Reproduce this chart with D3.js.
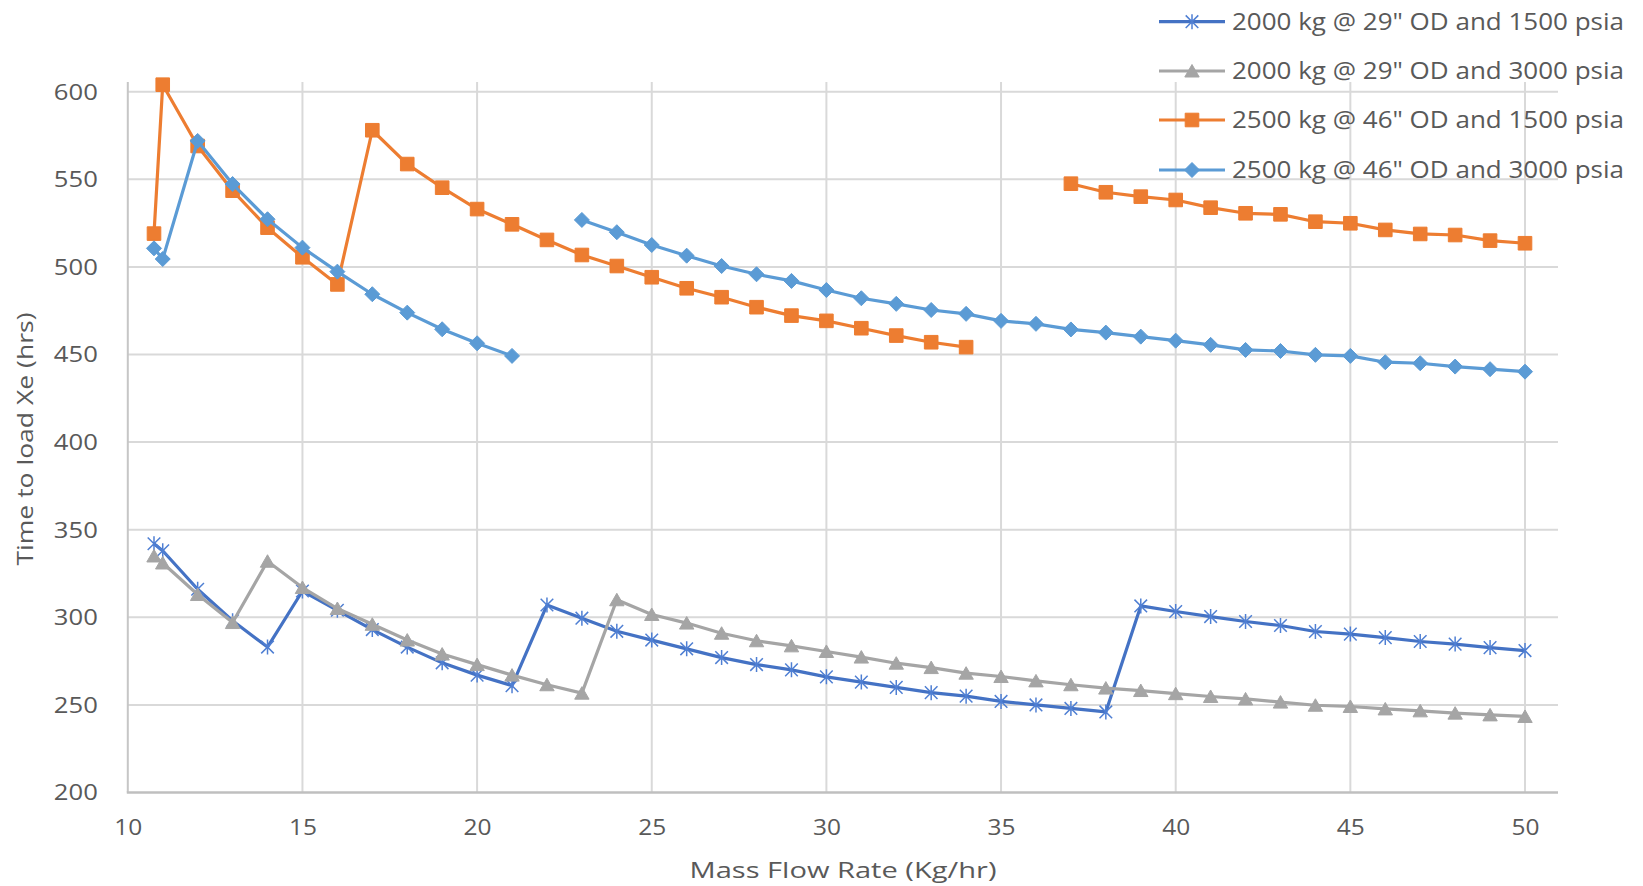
<!DOCTYPE html>
<html>
<head>
<meta charset="utf-8">
<script src="https://cdn.jsdelivr.net/npm/d3@7/dist/d3.min.js"></script>
<style>
  html, body { margin: 0; padding: 0; background: #fff; }
  svg { display: block; }
  text { font-family: "Open Sans", "Noto Sans", sans-serif; fill: #595959; }
</style>
</head>
<body>
<svg id="chart" width="1643" height="886"></svg>
<script>
// ---------------- DATA ----------------
const flowRates = [10.75, 11, 12, 13, 14, 15, 16, 17, 18, 19, 20, 21, 22, 23, 24, 25, 26, 27, 28, 29, 30,
  31, 32, 33, 34, 35, 36, 37, 38, 39, 40, 41, 42, 43, 44, 45, 46, 47, 48, 49, 50];

const seriesNames = [
  '2000 kg @ 29" OD and 1500 psia',
  '2000 kg @ 29" OD and 3000 psia',
  '2500 kg @ 46" OD and 1500 psia',
  '2500 kg @ 46" OD and 3000 psia'
];

const s2000at1500 = [342, 338, 316, 298, 283, 315, 304, 293, 283, 274, 267, 261, 307, 299.5, 292, 287, 282, 277, 273, 270, 266,
  263, 260, 257, 255, 252, 250, 248, 246, 306.5, 303.3, 300.4, 297.6, 295.3, 291.9, 290.4, 288.4, 286.2, 284.7, 282.7, 281];

const s2000at3000 = [335, 331, 313, 297, 332, 317, 305, 296, 287, 279, 273, 267, 261.5, 256.7, 310, 301.6, 296.7, 290.9, 286.6, 283.7, 280.5,
  277.3, 273.8, 271.3, 268.1, 266.2, 263.7, 261.5, 259.6, 258.2, 256.4, 254.8, 253.4, 251.6, 249.8, 249.1, 247.7, 246.6, 245.3, 244.3, 243.4];

const s2500at1500 = [519, 604, 569, 543.5, 522.4, 505.5, 490, 578, 558.7, 545.2, 533, 524.3, 515.4, 506.8, 500.5, 494.1, 487.8, 482.7, 477, 472.2, 469.2,
  465, 460.8, 457, 454.2, null, null, 547.5, 542.6, 540.1, 538.2, 533.8, 530.6, 530, 525.8, 524.9, 521.1, 518.8, 518.2, 515, 513.5];

const s2500at3000 = [510.6, 504.5, 571.9, 547.3, 527.2, 511, 497.3, 484.4, 473.9, 464.4, 456.4, 449.2, null, 526.8, 519.8, 512.5, 506.4, 500.5, 495.8, 492, 486.8,
  482.1, 478.9, 475.4, 473.2, 469.2, 467.5, 464.3, 462.5, 460.2, 457.9, 455.5, 452.6, 452, 449.8, 449.2, 445.6, 445, 443.1, 441.6, 440.2];

const xTicks = [10, 15, 20, 25, 30, 35, 40, 45, 50];
const yTicks = [200, 250, 300, 350, 400, 450, 500, 550, 600];
const xTitle = "Mass Flow Rate (Kg/hr)";
const yTitle = "Time to load  Xe (hrs)";

// ---------------- LAYOUT ----------------
const svg = d3.select("#chart");
const plotLeft = 127.8, plotRight = 1558, plotTop = 82, plotBottom = 792.5;
const x = d3.scaleLinear().domain([10, 50]).range([plotLeft, 1525]);
const y = d3.scaleLinear().domain([200, 600]).range([plotBottom, 91.7]);

const colors = ["#4472C4", "#A5A5A5", "#ED7D31", "#5B9BD5"];
const markers = ["star", "triangle", "square", "diamond"];

function markerPath(type) {
  switch (type) {
    case "star": return "M0,-7.5V7.5M-6.3,-6.3L6.3,6.3M-6.3,6.3L6.3,-6.3";
    case "triangle": return "M0,-6.5L7.2,6L-7.2,6Z";
    case "square": return "M-6.8,-6.8H6.8V6.8H-6.8Z";
    case "diamond": return "M0,-7.5L7.5,0L0,7.5L-7.5,0Z";
  }
}
function drawMarker(g, type, color) {
  const p = g.append("path").attr("d", markerPath(type));
  if (type === "star") p.attr("fill", "none").attr("stroke", "#4f7fd3").attr("stroke-width", 1.5);
  else p.attr("fill", color).attr("stroke", color).attr("stroke-width", 1);
  return p;
}

// ---------------- GRID ----------------
const grid = svg.append("g");
grid.selectAll(".hg").data(yTicks.filter(v => v !== 200)).enter().append("line")
  .attr("x1", plotLeft).attr("x2", plotRight)
  .attr("y1", d => y(d)).attr("y2", d => y(d))
  .attr("stroke", "#d9d9d9").attr("stroke-width", 2);
grid.selectAll(".vg").data(xTicks.filter(v => v !== 10)).enter().append("line")
  .attr("x1", d => x(d)).attr("x2", d => x(d))
  .attr("y1", plotTop).attr("y2", plotBottom)
  .attr("stroke", "#d9d9d9").attr("stroke-width", 2);
// axis lines
grid.append("line").attr("x1", plotLeft).attr("x2", plotLeft).attr("y1", plotTop).attr("y2", plotBottom)
  .attr("stroke", "#c6c6c6").attr("stroke-width", 2);
grid.append("line").attr("x1", plotLeft - 1).attr("x2", plotRight).attr("y1", plotBottom).attr("y2", plotBottom)
  .attr("stroke", "#bfbfbf").attr("stroke-width", 2.5);

// ---------------- AXES ----------------
const yAxis = svg.append("g").attr("transform", `translate(${plotLeft},0)`)
  .call(d3.axisLeft(y).tickValues(yTicks).tickSize(0).tickPadding(30));
yAxis.select(".domain").remove();
yAxis.selectAll("text").style("font-family", '"Open Sans", sans-serif').style("font-size", "21px")
  .attr("fill", "#595959").attr("dy", "0.35em")
  .attr("textLength", 44).attr("lengthAdjust", "spacingAndGlyphs");

const xAxis = svg.append("g").attr("transform", `translate(0,${plotBottom})`)
  .call(d3.axisBottom(x).tickValues(xTicks).tickSize(0).tickPadding(28));
xAxis.select(".domain").remove();
xAxis.selectAll("text").style("font-family", '"Open Sans", sans-serif').style("font-size", "21px")
  .attr("fill", "#595959")
  .attr("textLength", 28).attr("lengthAdjust", "spacingAndGlyphs");

svg.append("text").attr("x", 843).attr("y", 878).attr("text-anchor", "middle")
  .style("font-size", "21px").attr("textLength", 307).attr("lengthAdjust", "spacingAndGlyphs")
  .text(xTitle);
svg.append("text").attr("transform", "translate(33,439) rotate(-90)").attr("text-anchor", "middle")
  .style("font-size", "21px").attr("textLength", 253).attr("lengthAdjust", "spacingAndGlyphs")
  .text(yTitle);

// ---------------- SERIES ----------------
const allSeries = [s2000at1500, s2000at3000, s2500at1500, s2500at3000];
const line = d3.line().defined(d => d.v !== null).x(d => x(d.x)).y(d => y(d.v));

allSeries.forEach((vals, i) => {
  const pts = flowRates.map((fx, j) => ({ x: fx, v: vals[j] }));
  const g = svg.append("g");
  g.append("path").datum(pts).attr("d", line)
    .attr("fill", "none").attr("stroke", colors[i]).attr("stroke-width", 3.2)
    .attr("stroke-linejoin", "round");
  pts.filter(d => d.v !== null).forEach(d => {
    const mg = g.append("g").attr("transform", `translate(${x(d.x)},${y(d.v)})`);
    drawMarker(mg, markers[i], colors[i]);
  });
});

// ---------------- LEGEND ----------------
const legendY = [21.7, 71, 120, 170];
seriesNames.forEach((name, i) => {
  const g = svg.append("g").attr("transform", `translate(0,${legendY[i]})`);
  g.append("line").attr("x1", 1159).attr("x2", 1225).attr("y1", 0).attr("y2", 0)
    .attr("stroke", colors[i]).attr("stroke-width", 3.2);
  const mg = g.append("g").attr("transform", "translate(1192,0)");
  drawMarker(mg, markers[i], colors[i]);
  g.append("text").attr("x", 1232).attr("y", 0).attr("dy", "0.35em")
    .style("font-size", "23px").attr("textLength", 392).attr("lengthAdjust", "spacingAndGlyphs")
    .text(name);
});
</script>
</body>
</html>
